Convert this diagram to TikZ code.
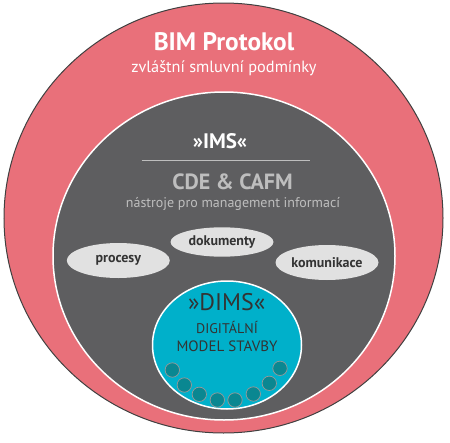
\documentclass[tikz,border=0pt]{standalone}
\usepackage{fontspec}
\setmainfont{PT Sans}
\usetikzlibrary{shapes.geometric}

\definecolor{protored}{RGB}{233,112,122}
\definecolor{imsgray}{RGB}{94,94,96}
\definecolor{dimscyan}{RGB}{0,176,202}
\definecolor{bubblegray}{RGB}{225,225,225}
\definecolor{dotteal}{RGB}{10,135,145}
\definecolor{textdark}{RGB}{51,51,51}
\definecolor{textlight}{RGB}{190,190,190}

\tikzset{
  bubble/.style={ellipse, fill=bubblegray, inner sep=0pt, minimum width=103pt,
    font=\bfseries\fontsize{14}{16}\selectfont, text=textdark},
  dimsdot/.style={fill=dotteal, draw=gray!80, line width=0.7pt}
}

\begin{document}
\begin{tikzpicture}[x=1pt,y=-1pt]
    \useasboundingbox (0,0) rectangle (450,442);

    \fill[protored, draw=black!75, line width=1pt] (223.5,218) ellipse [x radius=219.5, y radius=215];
    \fill[imsgray, draw=white, line width=1.5pt] (224,256) ellipse [x radius=171, y radius=164];
    \fill[dimscyan, draw=white, line width=1.5pt] (227,345) ellipse [x radius=74.5, y radius=64];

    \node (bim) [anchor=base, text=white, font=\bfseries\fontsize{25.3}{28}\selectfont] at (224,50) {BIM Protokol};
    \node (smluv) [anchor=base, text=white, font=\fontsize{16.3}{19}\selectfont] at (224,72.7) {zvláštní smluvní podmínky};

    \node (ims) [anchor=base, text=white, font=\bfseries\fontsize{21}{24}\selectfont] at (220,148.3) {»IMS«};
    \draw[textlight, line width=0.8pt] (141.7,160) -- (310,160);
    \node (cde) [anchor=base, text=textlight, font=\bfseries\fontsize{22}{25}\selectfont] at (232.5,189.3) {CDE \& CAFM};
    \node (tools) [anchor=base, text=textlight, font=\fontsize{14}{17}\selectfont] at (233,207.5) {nástroje pro management informací};

    \node (proc) [bubble, minimum height=35pt] at (118.3,260.5) {procesy};
    \node (dok) [bubble, minimum height=29.4pt] at (222,242) {dokumenty};
    \node (kom) [bubble, minimum height=35pt] at (327,262.5) {komunikace};

    \node (dims) [anchor=base, text=textdark, font=\fontsize{24}{27}\selectfont] at (226.7,310) {»DIMS«};
    \node (digi) [anchor=base, text=textdark, font=\fontsize{14}{16}\selectfont] at (227,333.3) {DIGITÁLNÍ};
    \node (model) [anchor=base, text=textdark, font=\fontsize{15}{17}\selectfont] at (227,351.7) {MODEL STAVBY};

    \foreach \x/\y in {172.3/370, 184.3/385, 199.3/394.3, 217.3/400, 235/400, 253.3/394, 269.3/383.3, 280/368.3}
      \draw[dimsdot] (\x,\y) circle (7.2);
\end{tikzpicture}
\end{document}
